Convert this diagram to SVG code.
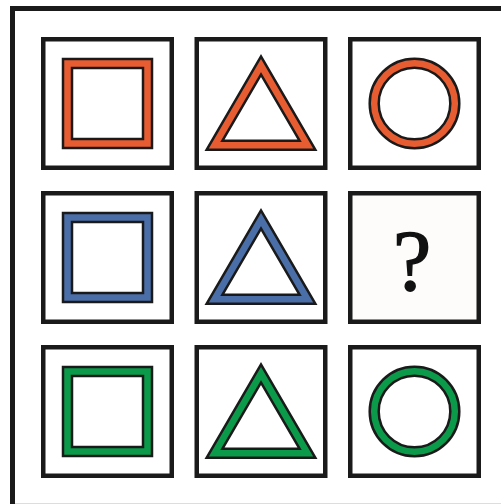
<svg xmlns="http://www.w3.org/2000/svg" width="501" height="504" viewBox="0 0 501 504">
<style>
.frame{fill:none;stroke:#1a1a1a;stroke-width:5}
.box{fill:#fff;stroke:#1a1a1a;stroke-width:4.5}
.q{fill:#fdfcfa}
.ol{fill:none;stroke:#1a1a1a;stroke-width:11.5;stroke-linejoin:miter;stroke-miterlimit:10}
.red{fill:none;stroke:#e85c32;stroke-width:6.5;stroke-linejoin:miter;stroke-miterlimit:10}
.blue{fill:none;stroke:#4a6ea8;stroke-width:6.5;stroke-linejoin:miter;stroke-miterlimit:10}
.green{fill:none;stroke:#0b9a4a;stroke-width:6.5;stroke-linejoin:miter;stroke-miterlimit:10}
.qm{font-family:"Liberation Serif","Times New Roman",serif;font-size:86px;fill:#111;stroke:#111;stroke-width:1.4;text-anchor:middle}
</style>
<defs>
<rect id="sq" x="26.5" y="26.5" width="80" height="80"/>
<polygon id="tri" points="66.5,28.5 20,108.3 113,108.3"/>
<circle id="ci" cx="66.5" cy="66.5" r="40.3"/>
<rect id="bx" x="2.25" y="2.25" width="128.5" height="128.5"/>
</defs>
<rect width="501" height="504" fill="#fff"/>
<path class="frame" d="M12.5,504 V8.5 H501"/>
<line x1="15" y1="503.5" x2="501" y2="503.5" stroke="#dddddd" stroke-width="1"/>
<g id="connectors"/>
<g id="cell-r1c1" transform="translate(41,37)"><use href="#bx" class="box"/><use href="#sq" class="ol"/><use href="#sq" class="red"/></g>
<g id="cell-r1c2" transform="translate(194.5,37)"><use href="#bx" class="box"/><use href="#tri" class="ol"/><use href="#tri" class="red"/></g>
<g id="cell-r1c3" transform="translate(348,37)"><use href="#bx" class="box"/><use href="#ci" class="ol"/><use href="#ci" class="red"/></g>
<g id="cell-r2c1" transform="translate(41,191)"><use href="#bx" class="box"/><use href="#sq" class="ol"/><use href="#sq" class="blue"/></g>
<g id="cell-r2c2" transform="translate(194.5,191)"><use href="#bx" class="box"/><use href="#tri" class="ol"/><use href="#tri" class="blue"/></g>
<g id="cell-r2c3" transform="translate(348,191)"><use href="#bx" class="box q"/><text class="qm" x="64" y="99">?</text></g>
<g id="cell-r3c1" transform="translate(41,345)"><use href="#bx" class="box"/><use href="#sq" class="ol"/><use href="#sq" class="green"/></g>
<g id="cell-r3c2" transform="translate(194.5,345)"><use href="#bx" class="box"/><use href="#tri" class="ol"/><use href="#tri" class="green"/></g>
<g id="cell-r3c3" transform="translate(348,345)"><use href="#bx" class="box"/><use href="#ci" class="ol"/><use href="#ci" class="green"/></g>
</svg>
